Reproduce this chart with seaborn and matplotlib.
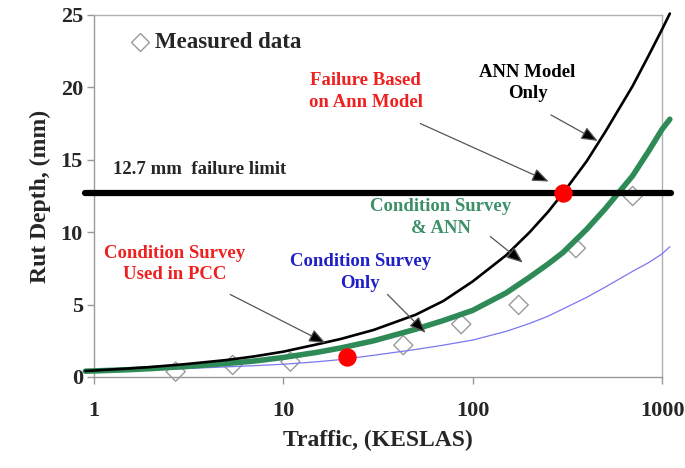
import numpy as np
import pandas as pd
import matplotlib
matplotlib.use("Agg")
import matplotlib.pyplot as plt
import seaborn as sns

# ---- data ----
traffic = [0.9, 1, 1.5, 2, 3, 5, 7, 10, 15, 20, 30, 50, 70, 100, 150, 200, 250, 300, 400, 500, 700, 850, 1000, 1100]
ann_only = [0.42, 0.45, 0.58, 0.69, 0.88, 1.17, 1.42, 1.75, 2.25, 2.62, 3.25, 4.3, 5.25, 6.6, 8.4, 10.0, 11.4, 12.7, 14.9, 16.9, 20.1, 22.2, 24.0, 25.1]
cs_ann = [0.40, 0.42, 0.5, 0.58, 0.72, 0.93, 1.1, 1.35, 1.7, 2.0, 2.5, 3.3, 3.9, 4.6, 5.8, 6.9, 7.8, 8.6, 10.2, 11.6, 13.9, 15.6, 17.1, 17.8]
cs_only = [0.36, 0.38, 0.44, 0.5, 0.58, 0.7, 0.78, 0.88, 1.05, 1.2, 1.5, 1.9, 2.2, 2.55, 3.15, 3.7, 4.2, 4.7, 5.5, 6.2, 7.3, 7.9, 8.5, 9.0]

measured_x = [2.7, 5.4, 10.9, 43, 87, 175, 351, 700]
measured_y = [0.37, 0.83, 1.06, 2.2, 3.65, 4.98, 8.9, 12.5]

failure_x = [299, 21.8]
failure_y = [12.7, 1.4]

limit_value = 12.7
limit_x = [0.9, 1120]

xticks = [1, 10, 100, 1000]
xtick_labels = ["1", "10", "100", "1000"]
yticks = [0, 5, 10, 15, 20, 25]

# ---- styling ----
sns.set_style("white")
plt.rcParams["font.family"] = ["Liberation Serif", "DejaVu Serif"]
plt.rcParams["font.weight"] = "bold"

fig = plt.figure(figsize=(6.85, 4.68), dpi=100)
ax = fig.add_axes([94 / 685, 1 - 377 / 468, (662 - 94) / 685, (377 - 15) / 468])

df = pd.DataFrame({"traffic": traffic, "ann": ann_only, "csann": cs_ann, "cs": cs_only})

sns.lineplot(data=df, x="traffic", y="cs", ax=ax, color="#7a78f0", lw=0.9, clip_on=False, zorder=3)
sns.lineplot(data=df, x="traffic", y="csann", ax=ax, color="#2e8b57", lw=4.0, clip_on=False, zorder=4)
sns.lineplot(data=df, x="traffic", y="ann", ax=ax, color="black", lw=1.9, clip_on=False, zorder=5)

ax.plot(limit_x, [limit_value, limit_value], color="black", lw=4.5, clip_on=False, zorder=6)

sns.scatterplot(x=measured_x, y=measured_y, ax=ax, marker="D", s=95, facecolor="none",
                edgecolor="#9a9a9a", linewidth=1.0, zorder=2, clip_on=False)
sns.scatterplot(x=failure_x, y=failure_y, ax=ax, marker="o", s=150, color="red",
                edgecolor="red", zorder=7, clip_on=False)

ax.set_xscale("log")
ax.set_xlim(1, 1000)
ax.set_ylim(0, 25)
ax.set_xticks(xticks)
ax.set_xticklabels(xtick_labels)
ax.minorticks_off()
ax.set_yticks(yticks)
ax.tick_params(axis="both", which="major", labelsize=16, length=5, width=1.0,
               color="#999999", direction="out", bottom=True, left=True)
ax.tick_params(axis="x", pad=12)
ax.tick_params(axis="y", pad=3)
for lab in ax.get_xticklabels() + ax.get_yticklabels():
    lab.set_fontweight("bold")

for side in ["top", "right", "left", "bottom"]:
    ax.spines[side].set_visible(True)
    ax.spines[side].set_color("#b0b0b0")
    ax.spines[side].set_linewidth(1.0)
ax.spines["left"].set_color("#999999")
ax.spines["bottom"].set_color("#999999")

ax.set_xlabel("Traffic, (KESLAS)", fontsize=17, fontweight="bold", labelpad=7)
ax.set_ylabel("Rut Depth, (mm)", fontsize=17, fontweight="bold", labelpad=7)

# legend entry
ax.plot([0.081], [0.925], transform=ax.transAxes, marker="D", ms=9, mfc="none",
        mec="#9a9a9a", mew=1.0, ls="none", clip_on=False)
ax.text(0.107, 0.925, "Measured data", transform=ax.transAxes, fontsize=16.5,
        fontweight="bold", va="center", ha="left")

# annotations
fs = 13.5
ls = 1.35
ax.text(1.26, 14.3, "12.7 mm  failure limit", fontsize=fs, fontweight="bold", va="center", ha="left")
ax.text(27.2, 19.7, "Failure Based\non Ann Model", fontsize=fs, fontweight="bold",
        color="#ee2020", ha="center", va="center", linespacing=ls)
ax.text(195, 20.3, "ANN Model\nOnly", fontsize=fs, fontweight="bold", color="black",
        ha="center", va="center", linespacing=ls)
ax.text(67.7, 11.0, "Condition Survey\n& ANN", fontsize=fs, fontweight="bold",
        color="#3d9068", ha="center", va="center", linespacing=ls)
ax.text(2.68, 7.8, "Condition Survey\nUsed in PCC", fontsize=fs, fontweight="bold",
        color="#ee2020", ha="center", va="center", linespacing=ls)
ax.text(25.5, 7.2, "Condition Survey\nOnly", fontsize=fs, fontweight="bold",
        color="#2020c8", ha="center", va="center", linespacing=ls)

arrows = [
    ((53, 17.5), (252, 13.5)),
    ((259, 18.1), (458, 16.3)),
    ((124, 9.7), (184, 7.9)),
    ((35.5, 5.7), (56.4, 3.05)),
    ((5.24, 5.7), (16.7, 2.35)),
]
for start, end in arrows:
    ax.annotate("", xy=end, xytext=start,
                arrowprops=dict(arrowstyle="-|>,head_length=1.0,head_width=0.4",
                                color="#555555", fc="black", ec="#555555", lw=0.9,
                                shrinkA=0, shrinkB=0), zorder=8)

fig.savefig("out.png", dpi=100)
